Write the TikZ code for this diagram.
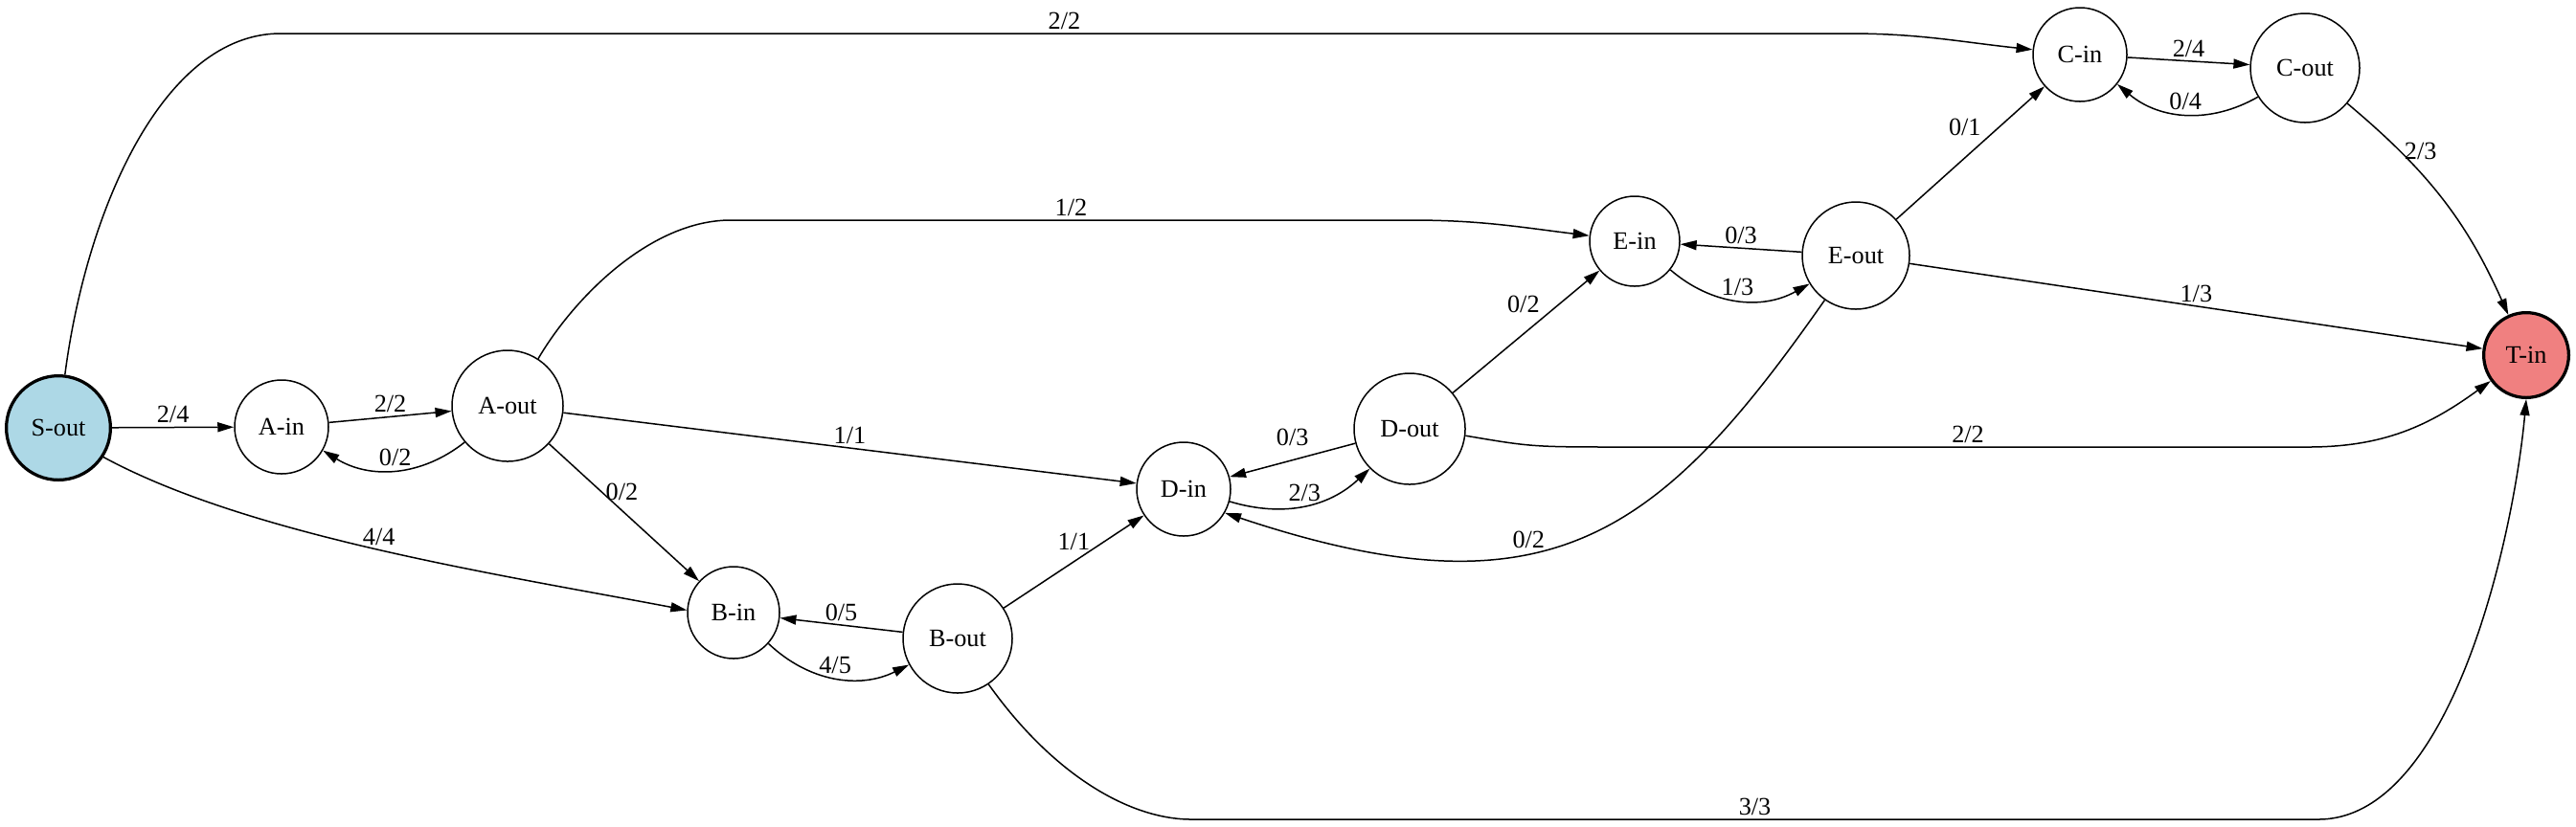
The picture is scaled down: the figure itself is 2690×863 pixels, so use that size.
\documentclass[tikz,border=0pt]{standalone}
\usepackage{fontspec}
\setmainfont{Liberation Serif}
\usetikzlibrary{arrows.meta}

\definecolor{srcblue}{HTML}{ADD8E6}
\definecolor{sinkred}{HTML}{F08080}

\begin{document}
\begin{tikzpicture}[x=0.4pt,y=0.4pt,
		font=\fontsize{10.5}{12}\selectfont,
		vertex/.style={circle,draw,line width=0.6pt,inner sep=0pt,minimum size=#1},
		vertex/.default=39pt,
		source/.style={fill=srcblue,line width=1.3pt},
		sink/.style={fill=sinkred,line width=1.3pt},
		flow/.style={-{Triangle[length=6.8pt,width=4pt]},line width=0.6pt},
		lbl/.style={inner sep=1.5pt}]

		\useasboundingbox (0,0) rectangle (2690,-863);

		% split vertices
		\node [vertex=43.5pt,source] (sout) at (61,-447) {S-out};
		\node [vertex=39.2pt] (ain) at (294,-446) {A-in};
		\node [vertex=46.4pt] (aout) at (530,-424) {A-out};
		\node [vertex=38.4pt] (bin) at (766,-640) {B-in};
		\node [vertex=45.6pt] (bout) at (1000,-667) {B-out};
		\node [vertex=39.2pt] (din) at (1236,-511) {D-in};
		\node [vertex=46.4pt] (dout) at (1472,-448) {D-out};
		\node [vertex=37.6pt] (ein) at (1707,-252) {E-in};
		\node [vertex=44.8pt] (eout) at (1938,-267) {E-out};
		\node [vertex=39.2pt] (cin) at (2172,-57) {C-in};
		\node [vertex=45.6pt] (cout) at (2407,-71) {C-out};
		\node [vertex=35.5pt,sink] (tin) at (2638,-371) {T-in};

		% source
		\draw [flow] (sout) -- node [lbl,above] {2/4} (ain);
		\draw [flow] (sout.83) .. controls (90,-220) and (170,-35) .. (293,-35)
			-- node [lbl,above] {2/2} (1930,-35) to [out=0,in=174] (cin);
		\draw [flow] (sout.-33) .. controls (260,-560) and (520,-600) .. node [lbl,above] {4/4} (bin.177);

		% A
		\draw [flow] (ain) -- node [lbl,above] {2/2} (aout);
		\draw [flow] (aout) to [bend left=35] node [lbl,above] {0/2} (ain);
		\draw [flow] (aout) -- node [lbl,right,pos=0.35] {0/2} (bin);
		\draw [flow] (aout) -- node [lbl,above] {1/1} (din);
		\draw [flow] (aout.57) .. controls (600,-310) and (680,-230) .. (763,-230)
			-- node [lbl,above] {1/2} (1474,-230) to [out=0,in=173] (ein);

		% B
		\draw [flow] (bin) to [bend right=35] node [lbl,above] {4/5} (bout);
		\draw [flow] (bout) -- node [lbl,above] {0/5} (bin);
		\draw [flow] (bout) -- node [lbl,above=3pt] {1/1} (din);
		\draw [flow] (bout.-56) .. controls (1100,-810) and (1180,-856) .. (1244,-856)
			-- node [lbl,above] {3/3} (2421,-856) .. controls (2560,-856) and (2625,-560) .. (tin.south);

		% D
		\draw [flow] (din) to [bend right=30] node [lbl,above] {2/3} (dout);
		\draw [flow] (dout) -- node [lbl,above=4pt] {0/3} (din);
		\draw [flow] (dout) -- node [lbl,above left,pos=0.62] {0/2} (ein);
		\draw [flow] (dout.-7) .. controls (1600,-467) .. (1700,-467)
			-- node [lbl,above] {2/2} (2410,-467) to [out=0,in=-144] (tin);

		% E
		\draw [flow] (ein) to [bend right=35] node [lbl,above] {1/3} (eout);
		\draw [flow] (eout) -- node [lbl,above] {0/3} (ein);
		\draw [flow] (eout.-125) .. controls (1733,-560) and (1618,-649) .. node [lbl,above,pos=0.6] {0/2} (din.-30);
		\draw [flow] (eout) -- node [lbl,above left,pos=0.6] {0/1} (cin);
		\draw [flow] (eout) -- node [lbl,above] {1/3} (tin);

		% C
		\draw [flow] (cin) -- node [lbl,above] {2/4} (cout);
		\draw [flow] (cout) to [bend left=35] node [lbl,above] {0/4} (cin);
		\draw [flow] (cout) to [out=-40,in=114] node [lbl,right,pos=0.25] {2/3} (tin);

\end{tikzpicture}
\end{document}
